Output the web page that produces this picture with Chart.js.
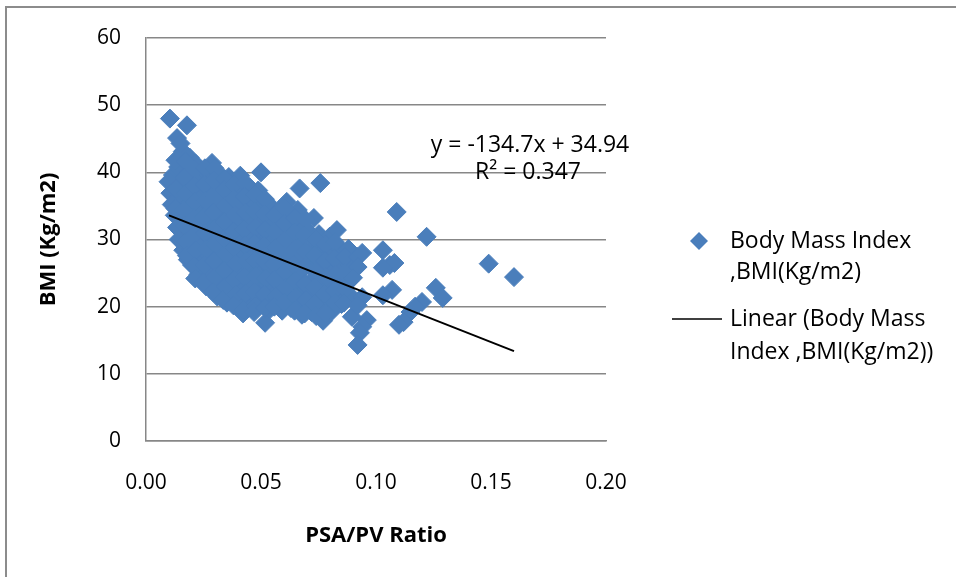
<!DOCTYPE html>
<html>
<head>
<meta charset="utf-8">
<script src="https://cdn.jsdelivr.net/npm/chart.js@4.4.1/dist/chart.umd.min.js"></script>
<style>
  html, body { margin: 0; padding: 0; background: #fff; }
  canvas { display: block; }
</style>
</head>
<body>
<canvas id="chart" width="956" height="577"></canvas>
<script>
// ── DATA ───────────────────────────────────────────────────────
const xTitle = 'PSA/PV Ratio';
const yTitle = 'BMI (Kg/m2)';
const seriesName = ['Body Mass Index', ',BMI(Kg/m2)'];
const trendName = ['Linear (Body Mass', 'Index ,BMI(Kg/m2))'];
const trendLabel = ['y = -134.7x + 34.94', 'R\u00b2 = 0.347'];

// [PSA/PV ratio, BMI], main cloud
const clusterPoints = [
  [0.0104,48.0],[0.0117,39.6],[0.0098,38.6],[0.0106,36.9],[0.0112,35.2],[0.0125,33.6],
  [0.0135,45.1],[0.0178,47.0],[0.0160,43.1],[0.0140,40.8],[0.0150,38.2],[0.0138,36.0],[0.0145,33.4],[0.0152,31.2],[0.0158,29.6],[0.0162,28.4],
  [0.0190,42.2],[0.0186,40.0],[0.0194,37.9],[0.0188,35.5],[0.0192,33.1],[0.0185,30.8],[0.0196,28.6],[0.0182,27.0],[0.0200,26.2],
  [0.0215,41.3],[0.0230,39.2],[0.0238,36.6],[0.0228,34.2],[0.0240,31.8],[0.0232,29.4],[0.0236,27.0],[0.0228,24.8],[0.0222,25.6],
  [0.0287,41.4],[0.0275,39.6],[0.0270,37.2],[0.0282,34.9],[0.0276,32.5],[0.0280,30.1],[0.0272,27.7],[0.0284,25.3],[0.0262,23.0],
  [0.0310,40.0],[0.0325,38.3],[0.0318,35.9],[0.0328,33.5],[0.0320,31.1],[0.0324,28.7],[0.0316,26.3],[0.0326,23.9],[0.0310,21.5],
  [0.0360,39.3],[0.0368,36.9],[0.0362,34.5],[0.0370,32.1],[0.0364,29.7],[0.0358,27.3],[0.0372,24.9],[0.0366,22.5],[0.0352,20.6],
  [0.0410,39.5],[0.0405,37.6],[0.0414,35.2],[0.0408,32.8],[0.0402,30.4],[0.0412,28.0],[0.0406,25.6],[0.0416,23.2],[0.0400,21.0],[0.0422,19.0],
  [0.0450,37.8],[0.0456,35.6],[0.0448,33.2],[0.0458,30.8],[0.0452,28.4],[0.0446,26.0],[0.0460,23.6],[0.0454,21.2],[0.0444,20.0],
  [0.0500,40.0],[0.0488,37.3],[0.0496,34.9],[0.0502,32.5],[0.0494,30.1],[0.0498,27.7],[0.0490,25.3],[0.0504,22.9],[0.0496,20.6],[0.0518,17.6],
  [0.0536,35.2],[0.0542,32.8],[0.0534,30.4],[0.0544,28.0],[0.0538,25.6],[0.0530,23.2],[0.0546,20.8],[0.0538,19.6],
  [0.0580,34.4],[0.0586,32.0],[0.0578,29.6],[0.0588,27.2],[0.0582,24.8],[0.0576,22.4],[0.0584,20.3],[0.0592,19.4],
  [0.0612,35.6],[0.0630,33.4],[0.0622,31.0],[0.0628,28.6],[0.0620,26.2],[0.0632,23.8],[0.0624,21.4],[0.0630,19.8],
  [0.0668,37.6],[0.0660,34.4],[0.0672,32.2],[0.0666,29.8],[0.0674,27.4],[0.0664,25.0],[0.0676,22.6],[0.0668,20.2],[0.0678,18.8],
  [0.0730,33.2],[0.0710,31.0],[0.0716,28.6],[0.0708,26.2],[0.0718,23.8],[0.0712,21.4],[0.0720,19.2],
  [0.0758,38.4],[0.0752,30.8],[0.0760,29.0],[0.0754,26.6],[0.0762,24.2],[0.0750,21.8],[0.0764,19.6],[0.0770,17.9],
  [0.0798,30.4],[0.0806,28.0],[0.0796,25.6],[0.0804,23.2],[0.0800,20.8],[0.0810,19.4],
  [0.0830,31.4],[0.0845,28.6],[0.0840,26.4],[0.0848,24.0],[0.0838,21.6],[0.0850,20.4],
  [0.0880,28.6],[0.0888,26.2],[0.0884,23.8],[0.0890,21.6],[0.0895,18.5]
];

// more points of the cloud, lying between the ones above
const clusterFill = [
  [0.0128,41.8],[0.0130,37.5],[0.0128,34.6],[0.0135,31.8],[0.0142,30.0],[0.0150,44.3],
  [0.0170,41.6],[0.0168,39.2],[0.0172,36.8],[0.0166,34.4],[0.0170,32.0],[0.0174,29.6],[0.0178,27.6],
  [0.0212,40.4],[0.0210,38.0],[0.0214,35.6],[0.0208,33.2],[0.0212,30.8],[0.0216,28.4],[0.0210,26.0],[0.0214,24.2],
  [0.0256,40.6],[0.0254,38.2],[0.0258,35.8],[0.0252,33.4],[0.0256,31.0],[0.0260,28.6],[0.0254,26.2],[0.0250,23.6],
  [0.0298,40.6],[0.0296,38.8],[0.0300,36.4],[0.0294,34.0],[0.0298,31.6],[0.0302,29.2],[0.0296,26.8],[0.0300,24.4],[0.0292,22.2],
  [0.0342,39.0],[0.0340,37.4],[0.0344,35.0],[0.0338,32.6],[0.0342,30.2],[0.0346,27.8],[0.0340,25.4],[0.0344,23.0],[0.0336,21.0],
  [0.0386,38.2],[0.0384,36.0],[0.0388,33.6],[0.0382,31.2],[0.0386,28.8],[0.0390,26.4],[0.0384,24.0],[0.0388,21.8],[0.0380,20.2],
  [0.0430,38.4],[0.0428,36.4],[0.0432,34.0],[0.0426,31.6],[0.0430,29.2],[0.0434,26.8],[0.0428,24.4],[0.0432,22.0],[0.0424,19.6],
  [0.0474,36.6],[0.0472,34.2],[0.0476,31.8],[0.0470,29.4],[0.0474,27.0],[0.0478,24.6],[0.0472,22.2],[0.0476,20.0],[0.0470,19.2],
  [0.0517,36.0],[0.0515,33.8],[0.0519,31.4],[0.0513,29.0],[0.0517,26.6],[0.0521,24.2],[0.0515,21.8],[0.0519,19.8],
  [0.0560,33.6],[0.0558,31.2],[0.0562,28.8],[0.0556,26.4],[0.0560,24.0],[0.0564,21.6],[0.0558,20.0],
  [0.0604,34.6],[0.0602,32.4],[0.0606,30.0],[0.0600,27.6],[0.0604,25.2],[0.0608,22.8],[0.0602,20.6],
  [0.0648,33.2],[0.0646,31.0],[0.0650,28.6],[0.0644,26.2],[0.0648,23.8],[0.0652,21.4],[0.0646,19.4],
  [0.0692,33.0],[0.0690,30.6],[0.0694,28.2],[0.0688,25.8],[0.0692,23.4],[0.0696,21.0],[0.0690,19.0],
  [0.0736,30.0],[0.0734,27.6],[0.0738,25.2],[0.0732,22.8],[0.0736,20.4],[0.0740,18.6],
  [0.0780,29.2],[0.0778,26.8],[0.0782,24.4],[0.0776,22.0],[0.0780,19.0],
  [0.0822,29.6],[0.0820,27.2],[0.0824,24.8],[0.0818,22.4],[0.0822,20.6],
  [0.0865,27.4],[0.0863,25.0],[0.0867,22.6],[0.0861,20.6]
];

// scattered points right of the cloud
const outlierPoints = [
  [0.0920,27.4],[0.0940,28.0],[0.0920,25.9],[0.0900,24.3],[0.1030,28.4],[0.1060,26.2],
  [0.1080,26.5],[0.1030,25.8],[0.1090,34.1],[0.1220,30.4],[0.1070,22.5],[0.1030,21.7],
  [0.0940,21.4],[0.0920,20.2],[0.1260,22.8],[0.1290,21.3],[0.1200,20.7],[0.1170,20.0],
  [0.1150,19.2],[0.1120,17.7],[0.1100,17.3],[0.0960,18.0],[0.0940,17.0],[0.0930,16.1],
  [0.0920,14.3],[0.1490,26.4],[0.1600,24.4]
];

// end points of the linear trend line
const trendPoints = [[0.01, 33.59], [0.16, 13.39]];

const xTicks = [0, 0.05, 0.10, 0.15, 0.20];
const yTicks = [0, 10, 20, 30, 40, 50, 60];

// ── STYLE ──────────────────────────────────────────────────────
const BLUE = '#4a7ebb';
const GRID = '#878787';
const FONT = "'Open Sans', 'Liberation Sans', sans-serif";

Chart.defaults.font.family = FONT;
Chart.defaults.color = '#000';

const toXY = p => ({ x: p[0], y: p[1] });

// frame, legend and trendline label
const extras = {
  id: 'extras',
  afterDraw(chart) {
    const ctx = chart.ctx;
    ctx.save();
    // outer chart frame
    ctx.strokeStyle = '#8c8c8c';
    ctx.lineWidth = 2;
    ctx.beginPath();
    ctx.moveTo(6, 600); ctx.lineTo(6, 7); ctx.lineTo(980, 7);
    ctx.stroke();

    ctx.fillStyle = '#000';
    ctx.textBaseline = 'middle';

    // trendline equation
    ctx.font = '23px ' + FONT;
    ctx.textAlign = 'center';
    ctx.fillText(trendLabel[0], 530, 145);
    ctx.fillText(trendLabel[1], 528, 172);

    // legend
    ctx.textAlign = 'left';
    ctx.fillText(seriesName[0], 730, 241);
    ctx.fillText(seriesName[1], 730, 272);
    ctx.fillText(trendName[0], 730, 319);
    ctx.fillText(trendName[1], 730, 352);

    ctx.fillStyle = BLUE;
    ctx.beginPath();
    ctx.moveTo(690, 241); ctx.lineTo(699, 232); ctx.lineTo(708, 241); ctx.lineTo(699, 250);
    ctx.closePath();
    ctx.fill();

    ctx.strokeStyle = '#000';
    ctx.lineWidth = 1.5;
    ctx.beginPath();
    ctx.moveTo(672, 319); ctx.lineTo(722, 319);
    ctx.stroke();
    ctx.restore();
  }
};

new Chart(document.getElementById('chart'), {
  type: 'scatter',
  data: {
    datasets: [
      {
        label: trendName.join(' '),
        data: trendPoints.map(toXY),
        showLine: true,
        borderColor: '#000',
        borderWidth: 2,
        pointRadius: 0,
        order: 0
      },
      {
        label: seriesName.join(' '),
        data: clusterPoints.concat(clusterFill, outlierPoints).map(toXY),
        pointStyle: 'rectRot',
        pointRadius: 9.5,
        backgroundColor: BLUE,
        borderColor: BLUE,
        borderWidth: 1,
        order: 1
      }
    ]
  },
  options: {
    responsive: false,
    animation: false,
    layout: { padding: { top: 38, right: 350, bottom: 0, left: 0 } },
    plugins: { legend: { display: false }, tooltip: { enabled: false } },
    scales: {
      x: {
        type: 'linear',
        min: 0, max: 0.2,
        afterBuildTicks: s => { s.ticks = xTicks.map(v => ({ value: v })); },
        afterFit: s => { s.height = 136; },
        ticks: { font: { size: 21 }, padding: 29, maxRotation: 0, callback: v => v.toFixed(2) },
        grid: { display: false, drawTicks: false },
        border: { display: true, color: GRID, width: 1.5 },
        title: { display: true, text: xTitle, font: { size: 22, weight: 'bold' }, padding: { bottom: 28 } }
      },
      y: {
        min: 0, max: 60,
        afterBuildTicks: s => { s.ticks = yTicks.map(v => ({ value: v })); },
        afterFit: s => { s.width = 146; },
        ticks: { font: { size: 21 }, padding: 25 },
        grid: { color: GRID, lineWidth: 1.5, drawTicks: false },
        border: { display: true, color: GRID, width: 1.5 },
        title: { display: true, text: yTitle, font: { size: 22, weight: 'bold' }, padding: { top: 36 } }
      }
    }
  },
  plugins: [extras]
});
</script>
</body>
</html>
